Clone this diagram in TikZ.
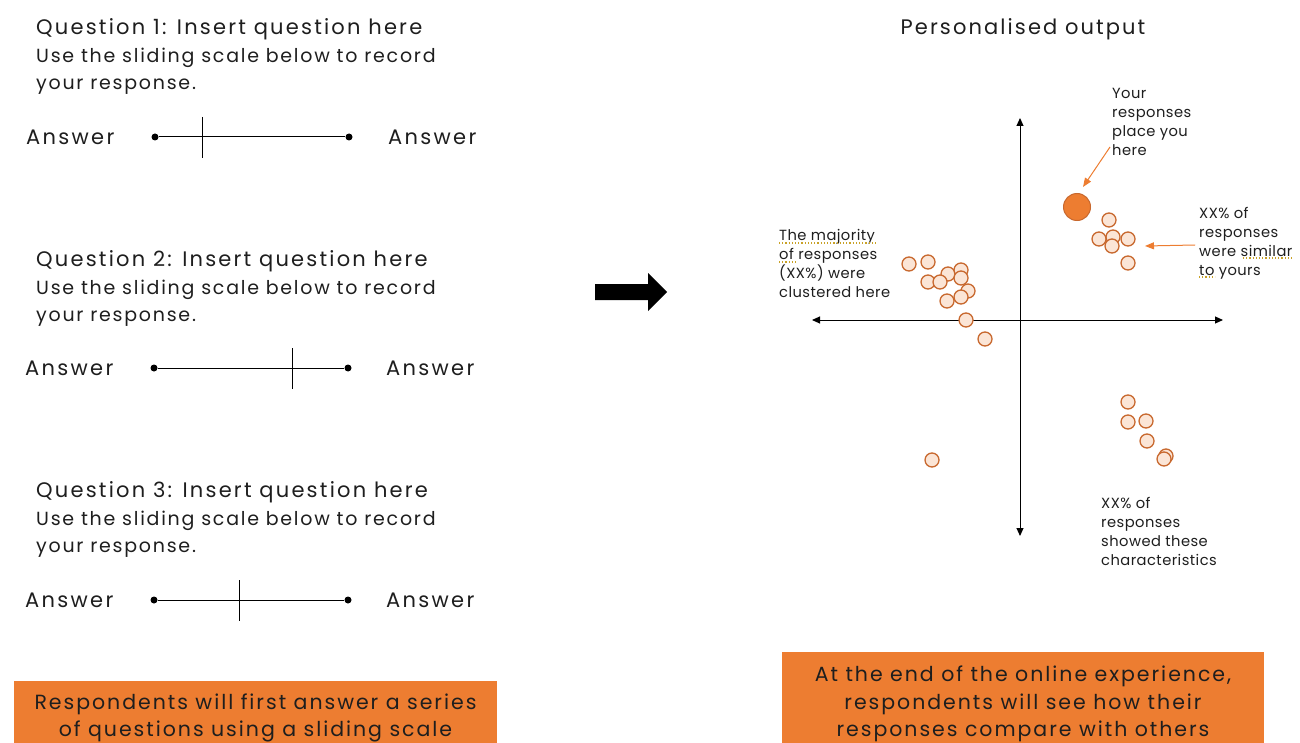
\documentclass[tikz,border=0pt]{standalone}
\usepackage{fontspec}
\setmainfont{Poppins}
\usetikzlibrary{arrows.meta}
\definecolor{orng}{HTML}{ED7D31}
\definecolor{dotfill}{HTML}{FBE5D6}
\definecolor{dotline}{HTML}{C8682E}
\definecolor{txt}{HTML}{1E1E1E}
\definecolor{spell}{HTML}{C9A227}
\tikzset{
  x=1pt, y=-1pt,
  qtitle/.style={anchor=west, inner sep=0pt, text=txt, font=\fontsize{21}{25}\selectfont\addfontfeatures{LetterSpace=10.5}},
  qbody/.style={anchor=north west, inner sep=0pt, text=txt, align=left, font=\fontsize{19}{26.5}\selectfont\addfontfeatures{LetterSpace=9.2}},
  anslabel/.style={anchor=west, inner sep=0pt, text=txt, font=\fontsize{21}{25}\selectfont\addfontfeatures{LetterSpace=11}},
  enddot/.style={circle, fill=black, inner sep=0pt, minimum size=7pt},
  slider/.style={line width=1pt, black},
  axis/.style={line width=1pt, black, {Triangle[length=8pt,width=7pt]}-{Triangle[length=8pt,width=7pt]}},
  small/.style={anchor=north west, inner sep=0pt, text=txt, align=left, font=\fontsize{14.7}{19}\selectfont\addfontfeatures{LetterSpace=3}},
  pt/.style={circle, fill=dotfill, draw=dotline, line width=1.3pt, minimum size=14pt, inner sep=0pt},
  bigpt/.style={circle, fill=orng, draw=dotline, line width=1pt, minimum size=27pt, inner sep=0pt},
  callout/.style={orng, line width=1pt, -{Triangle[length=9pt,width=7pt]}},
  banner/.style={fill=orng, inner sep=0pt, align=center, text=txt, font=\fontsize{20.5}{27.5}\selectfont\addfontfeatures{LetterSpace=9.6}},
  squig/.style={spell, line width=1.2pt, dotted},
}
\begin{document}
\begin{tikzpicture}
\useasboundingbox (0,0) rectangle (1300,743);

% ---------- Left column: questions ----------
\foreach \n/\ty/\by/\sy/\tx/\lx/\rx/\dl/\dr in {1/29/48/137/202/26/388/155/349, 2/261/280/368/292/25/386/154/348, 3/492/511/600/239/25/386/154/348}{
  \node[qtitle] (q\n) at (36,\ty) {Question \n: Insert question here};
  \node[qbody] (b\n) at (36,\by) {Use the sliding scale below to record\\your response.};
  \node[anslabel] (al\n) at (\lx,\sy) {Answer};
  \node[anslabel] (ar\n) at (\rx,\sy) {Answer};
  \node[enddot] (sa\n) at (\dl,\sy) {};
  \node[enddot] (sb\n) at (\dr,\sy) {};
  \draw[slider] (sa\n) -- (sb\n);
  \coordinate (tt\n) at (\tx,\sy-20);
  \coordinate (tb\n) at (\tx,\sy+21);
  \draw[slider] (tt\n) -- (tb\n);
}

% ---------- Big block arrow ----------
\fill[black] (595,284) -- (648,284) -- (648,273) -- (667,292) -- (648,311) -- (648,300) -- (595,300) -- cycle;

% ---------- Right: personalised output ----------
\node[anchor=center, inner sep=0pt, text=txt, font=\fontsize{21}{25}\selectfont\addfontfeatures{LetterSpace=10}] (title) at (1023,29) {Personalised output};

\coordinate (yt) at (1020,118);
\coordinate (yb) at (1020,536);
\coordinate (xl) at (812,320);
\coordinate (xr) at (1223,320);
\draw[axis] (yb) -- (yt);
\draw[axis] (xl) -- (xr);

% cluster left
\foreach \px/\py [count=\i] in {909/264, 928/262, 948/274, 961/270, 928/282, 940/282, 961/278, 968/291, 961/297, 947/301, 966/320, 985/339}{
  \node[pt] (c\i) at (\px,\py) {};
}
% cluster near you
\foreach \px/\py [count=\i] in {1109/220, 1099/239, 1113/237, 1128/239, 1112/246, 1128/263}{
  \node[pt] (s\i) at (\px,\py) {};
}
% cluster lower right
\foreach \px/\py [count=\i] in {1128/402, 1128/422, 1146/421, 1147/441, 1166/456, 1164/459, 932/460}{
  \node[pt] (l\i) at (\px,\py) {};
}
\node[bigpt] (you) at (1077,207) {};

% labels
\node[small] (lyou) at (1112,88) {Your\\responses\\place you\\here};
\node[small] (lsim) at (1199,207) {XX\% of\\responses\\were similar\\to yours};
\node[small] (lmaj) at (779,229) {The majority\\of responses\\(XX\%) were\\clustered here};
\node[small] (lchar) at (1101,497) {XX\% of\\responses\\showed these\\characteristics};

\coordinate (ayS) at (1110,147);
\coordinate (ayE) at (1083,187);
\draw[callout] (ayS) -- (ayE);
\coordinate (asS) at (1195,245);
\coordinate (asE) at (1145,246);
\draw[callout] (asS) -- (asE);

% spell-check underlines
\draw[squig] (779,243) -- (877,243);
\draw[squig] (779,262) -- (797,262);
\draw[squig] (1243,258) -- (1294,258);
\draw[squig] (1199,277) -- (1215,277);

% ---------- Banners ----------
\fill[orng] (14,681) rectangle (497,743);
\node[banner] (bl) at (255.5,718) {Respondents will first answer a series\\of questions using a sliding scale};
\fill[orng] (782,652) rectangle (1264,743);
\node[banner] (br) at (1023,704) {At the end of the online experience,\\respondents will see how their\\responses compare with others};
\end{tikzpicture}
\end{document}
